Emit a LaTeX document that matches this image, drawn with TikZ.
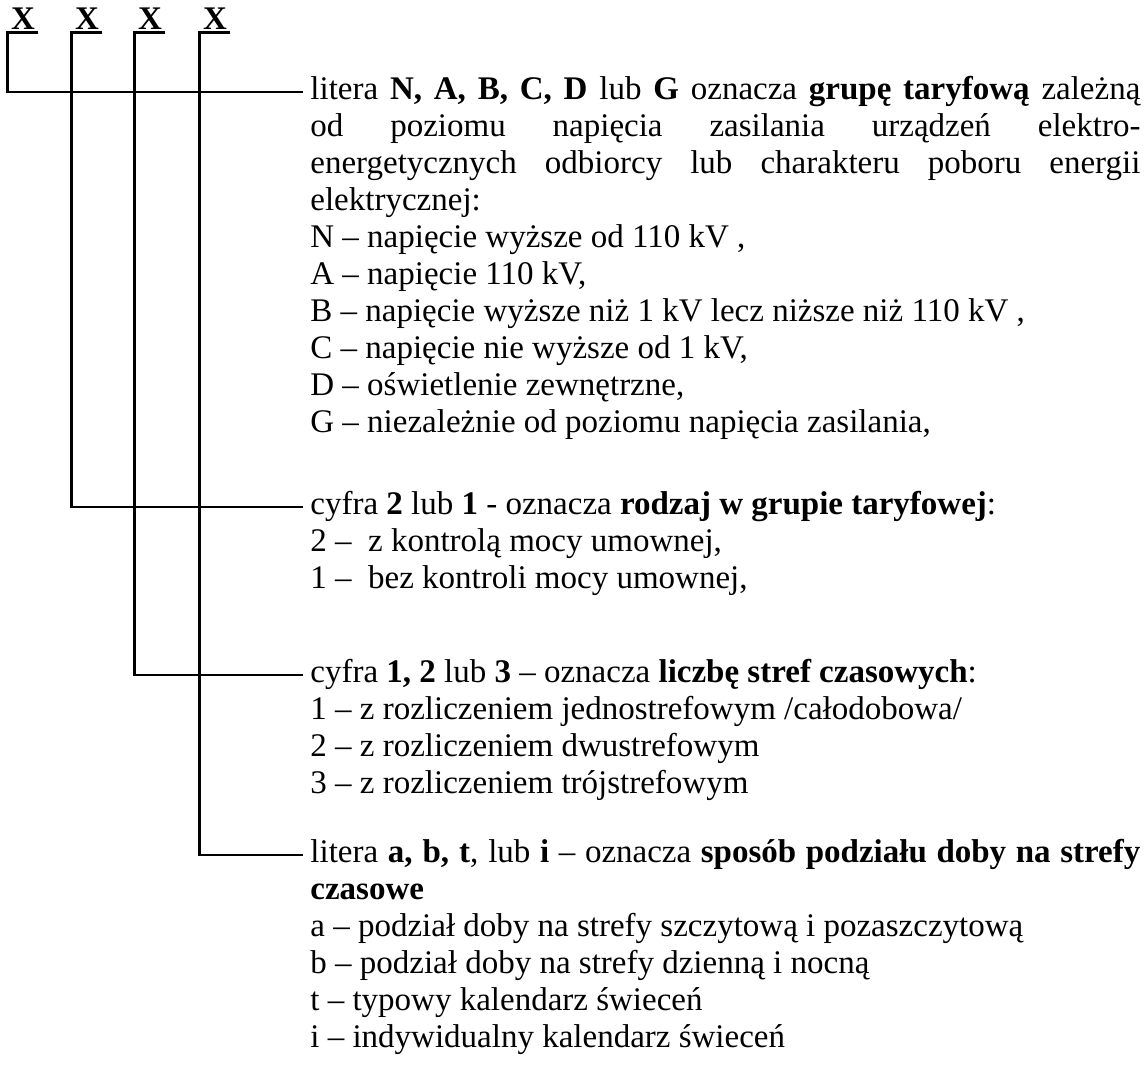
\documentclass[tikz,border=0pt]{standalone}
\usepackage{fontspec}
\setmainfont{Liberation Serif}
\newcommand{\fullline}[1]{\makebox[415pt][s]{#1}}

\begin{document}
\begin{tikzpicture}[x=0.5pt, y=-0.5pt,
    link/.style={draw=black, line width=1.3pt},
    letter/.style={font=\fontsize{16.5}{18.5}\selectfont\bfseries,
        inner xsep=1.5pt, inner ysep=1.5pt, text depth=0pt, anchor=base},
    desc/.style={font=\fontsize{16.5}{18.5}\selectfont,
        anchor=north west, inner sep=0pt, align=left},
]
\useasboundingbox (0,0) rectangle (1145,1067);

% the four letters of the code
\node (x1) [letter] at (23,29) {X};
\node (x2) [letter] at (87,29) {X};
\node (x3) [letter] at (150,29) {X};
\node (x4) [letter] at (215,29) {X};

% where the leader lines stop
\coordinate (c1) at (303,92);
\coordinate (c2) at (303,507);
\coordinate (c3) at (303,675);
\coordinate (c4) at (303,855);

% descriptions
\node (t1) [desc] at ([shift={(7,-18.5)}]c1) {\strut\fullline{litera \textbf{N, A, B, C, D} lub \textbf{G} oznacza \textbf{grupę taryfową} zależną}\\
    \fullline{od poziomu napięcia zasilania urządzeń elektro-}\\
    \fullline{energetycznych odbiorcy lub charakteru poboru energii}\\
    elektrycznej:\\
    N -- napięcie wyższe od 110 kV ,\\
    A -- napięcie 110 kV,\\
    B -- napięcie wyższe niż 1 kV lecz niższe niż 110 kV ,\\
    C -- napięcie nie wyższe od 1 kV,\\
    D -- oświetlenie zewnętrzne,\\
    G -- niezależnie od poziomu napięcia zasilania,};

\node (t2) [desc] at ([shift={(7,-18.5)}]c2) {\strut cyfra \textbf{2} lub \textbf{1} - oznacza \textbf{rodzaj w grupie taryfowej}:\\
    2 --\ \ z kontrolą mocy umownej,\\
    1 --\ \ bez kontroli mocy umownej,};

\node (t3) [desc] at ([shift={(7,-18.5)}]c3) {\strut cyfra \textbf{1, 2} lub \textbf{3} -- oznacza \textbf{liczbę stref czasowych}:\\
    1 -- z rozliczeniem jednostrefowym /całodobowa/\\
    2 -- z rozliczeniem dwustrefowym\\
    3 -- z rozliczeniem trójstrefowym};

\node (t4) [desc] at ([shift={(7,-18.5)}]c4) {\strut\fullline{litera \textbf{a, b, t}, lub \textbf{i} -- oznacza \textbf{sposób podziału doby na strefy}}\\
    \textbf{czasowe}\\
    a -- podział doby na strefy szczytową i pozaszczytową\\
    b -- podział doby na strefy dzienną i nocną\\
    t -- typowy kalendarz świeceń\\
    i -- indywidualny kalendarz świeceń};

% leader lines
\draw[link] (x1.south east) -- (x1.south west) |- (c1);
\draw[link] (x2.south east) -- (x2.south west) |- (c2);
\draw[link] (x3.south east) -- (x3.south west) |- (c3);
\draw[link] (x4.south east) -- (x4.south west) |- (c4);
\end{tikzpicture}
\end{document}
